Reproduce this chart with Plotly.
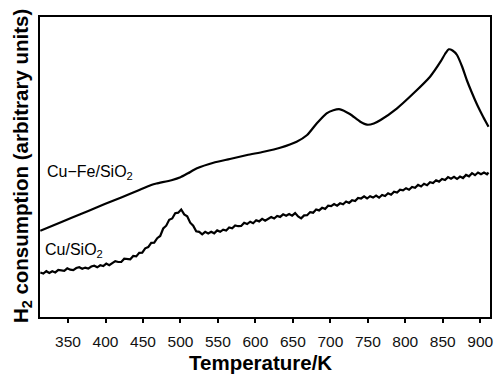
import plotly.graph_objects as go

# Temperature (K) and H2 consumption (arbitrary units)
cufe_T = [313, 330, 354, 377, 399, 421, 443.5, 461, 468, 488, 500, 510, 522, 544, 566, 589,
          611, 633, 655, 669, 682, 695, 704, 713, 726, 740, 749, 758, 767, 789, 811,
          833, 847, 853, 858, 863, 869, 876, 882, 889, 896, 904, 911]
cufe_v = [86.3, 91.5, 99, 106.1, 112.9, 119.6, 126.6, 132, 133.5, 136.8, 139.7, 143.7, 148.7, 154.3, 158, 162,
          165.3, 169.3, 175.3, 182, 193.7, 203.7, 206.8, 207.7, 203, 195.3, 192.3, 193.5, 197, 208.7, 223.7,
          240.3, 255.3, 263, 267.7, 266.5, 262, 250, 237, 224, 212, 200, 190.3]

cu_T = [313, 317, 321, 325, 329, 333, 337, 341, 345, 349, 353, 357, 361, 365, 369, 373, 377, 381,
        385, 389, 393, 397, 401, 405, 409, 413, 417, 421, 425, 429, 433, 437, 441, 445, 449, 453,
        457, 461, 465, 469, 473, 477, 481, 485, 489, 493, 497, 501, 505, 509, 513, 517, 521, 525,
        529, 533, 537, 541, 545, 549, 553, 557, 561, 565, 569, 573, 577, 581, 585, 589, 593, 597,
        601, 605, 609, 613, 617, 621, 625, 629, 633, 637, 641, 645, 649, 653, 657, 661, 665, 669,
        673, 677, 681, 685, 689, 693, 697, 701, 705, 709, 713, 717, 721, 725, 729, 733, 737, 741,
        745, 749, 753, 757, 761, 765, 769, 773, 777, 781, 785, 789, 793, 797, 801, 805, 809, 813,
        817, 821, 825, 829, 833, 837, 841, 845, 849, 853, 857, 861, 865, 869, 873, 877, 881, 885,
        889, 893, 897, 901, 905, 909, 911]
cu_v = [44.5, 43.5, 45.8, 44.0, 45.8, 44.6, 47.2, 46.8, 46.2, 48.7, 47.3, 46.9, 49.0, 49.8, 48.2, 49.4, 48.4, 50.5,
        51.3, 49.7, 51.7, 50.9, 53.4, 51.8, 54.2, 55.9, 55.0, 55.0, 58.3, 57.7, 57.7, 61.0, 60.6, 64.1, 64.4, 68.7,
        69.9, 74.2, 74.3, 78.8, 81.0, 88.5, 91.3, 97.2, 98.5, 103.8, 104.3, 107.5, 102.6, 100.8, 94.3, 91.3, 85.7, 85.1,
        82.7, 85.1, 83.5, 85.2, 83.7, 86.6, 85.2, 87.3, 86.5, 89.5, 88.7, 91.5, 90.8, 91.0, 94.3, 93.0, 95.3, 93.8,
        96.7, 95.6, 98.2, 96.4, 98.6, 100.0, 98.5, 101.1, 100.1, 102.7, 101.2, 103.0, 101.3, 103.9, 100.5, 98.6, 101.6, 101.8,
        104.9, 104.3, 107.5, 106.6, 109.2, 108.1, 111.3, 110.8, 113.0, 111.3, 113.7, 112.8, 115.5, 114.1, 116.7, 115.9, 119.1, 118.5,
        120.7, 118.5, 120.8, 119.4, 121.4, 119.3, 122.1, 121.0, 123.7, 122.3, 125.2, 124.4, 127.3, 126.6, 128.8, 127.3, 130.0, 129.3,
        132.1, 130.5, 133.2, 131.8, 134.8, 134.0, 136.8, 135.4, 138.1, 137.0, 139.9, 138.2, 140.1, 138.0, 140.4, 138.9, 142.1, 140.7,
        143.8, 141.8, 144.5, 142.7, 144.4, 142.7, 144.5]

tick_vals = [350, 400, 450, 500, 550, 600, 650, 700, 750, 800, 850, 900]
tick_text = [str(t) for t in tick_vals]

FONT = "Liberation Sans, Arial, sans-serif"

fig = go.Figure()
fig.add_trace(go.Scatter(x=cufe_T, y=cufe_v, mode="lines",
                         line=dict(color="black", width=2.2, shape="spline", smoothing=0.6),
                         showlegend=False, hoverinfo="skip"))
fig.add_trace(go.Scatter(x=cu_T, y=cu_v, mode="lines",
                         line=dict(color="black", width=2.2),
                         showlegend=False, hoverinfo="skip"))

fig.update_layout(
    width=494, height=374,
    margin=dict(l=40, r=4, t=17, b=57, autoexpand=False),
    paper_bgcolor="white", plot_bgcolor="white",
    font=dict(family=FONT, color="black"),
    xaxis=dict(range=[312.6, 913], showgrid=False, zeroline=False, automargin=False,
               showline=True, mirror=True, linecolor="black", linewidth=1.5,
               ticks="outside", ticklen=4, tickwidth=1.5, tickcolor="black",
               tickvals=tick_vals, ticktext=tick_text,
               tickfont=dict(size=15.5, family=FONT, color="#111"),
               ticklabelstandoff=6),
    yaxis=dict(range=[0, 300], showgrid=False, zeroline=False, automargin=False,
               showline=True, mirror=True, linecolor="black", linewidth=1.5,
               showticklabels=False, ticks=""),
    annotations=[
        dict(text="Temperature/K", xref="paper", yref="paper", x=0.489, y=-0.153,
             xanchor="center", yanchor="middle", showarrow=False,
             font=dict(size=20.5, family=FONT, color="black", weight="bold")),
        dict(text="H<sub>2</sub> consumption (arbitrary units)", xref="paper", yref="paper",
             x=-0.04, y=0.503, xanchor="center", yanchor="middle", showarrow=False,
             textangle=-90, font=dict(size=20.5, family=FONT, color="black", weight="bold")),
        dict(text="Cu\u2212Fe/SiO<sub>2</sub>", x=319.3, y=145, xref="x", yref="y",
             xanchor="left", yanchor="middle", showarrow=False,
             font=dict(size=16, family=FONT, color="black")),
        dict(text="Cu/SiO<sub>2</sub>", x=316, y=67, xref="x", yref="y",
             xanchor="left", yanchor="middle", showarrow=False,
             font=dict(size=16, family=FONT, color="black")),
    ],
)

fig.write_html("out.html", config={"displayModeBar": False},
               post_script="document.body.style.margin='0';document.body.style.overflow='hidden';")
